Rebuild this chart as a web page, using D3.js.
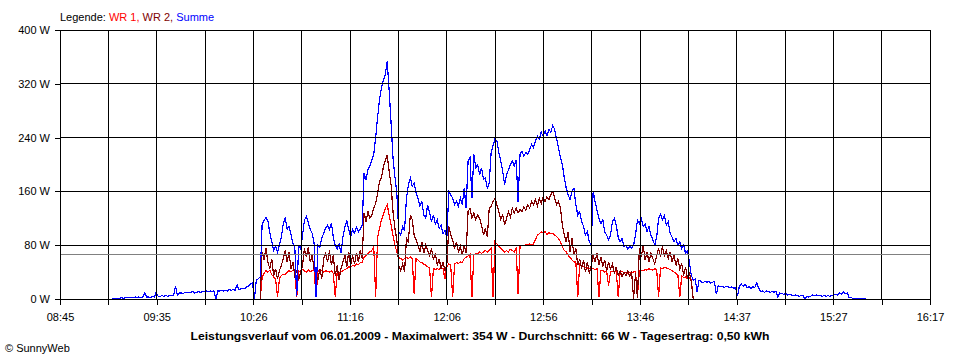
<!DOCTYPE html>
<html><head><meta charset="utf-8">
<script src="https://cdn.jsdelivr.net/npm/d3@7"></script>
<style>
body{margin:0;background:#fff;}
svg{display:block;font-family:"Liberation Sans",Arial,sans-serif;}
</style></head><body>
<svg id="chart" width="960" height="360"></svg>
<script>
// ---------- data ----------
const xTickLabels = ["08:45","09:35","10:26","11:16","12:06","12:56","13:46","14:37","15:27","16:17"];
const yTickValues = [0, 80, 160, 240, 320, 400];
const timeStart = 525;   // 08:45 in minutes after midnight
const timeEnd = 977;     // 16:17
const gridIntervals = 18;
const averageW = 66;
const legendLabels = ["WR 1", "WR 2", "Summe"];
const titleText = "Leistungsverlauf vom 06.01.2009 - Maximalwert: 354 W - Durchschnitt: 66 W - Tagesertrag: 0,50 kWh";
const footerText = "\u00A9 SunnyWeb";

// Summe, one value per minute from 09:12
const summeStart = 552;
const summe = [
1,1,1,1,1,2,1,2,2,2,
2,2,3,2,3,2,3,9,3,3,
2,4,3,10,4,4,5,4,5,4,
5,5,5,19,6,9,9,8,10,9,
10,10,11,9,10,11,10,11,11,12,
11,12,11,12,0,12,12,13,12,13,
12,14,13,14,13,21,14,15,16,15,
18,19,22,24,0,28,30,33,110,117,
121,116,98,86,72,78,70,80,92,112,
120,104,108,96,83,76,5,80,74,95,
117,123,114,103,98,83,3,80,77,90,
98,105,110,103,113,92,80,74,82,68,
92,107,116,104,92,103,98,107,100,104,
110,187,178,192,198,207,215,240,270,296,
314,326,333,354,310,262,210,182,157,100,
95,108,102,150,170,180,168,172,158,150,
138,145,125,120,140,128,115,125,112,118,
105,110,97,102,92,160,155,150,140,145,
138,150,140,165,135,205,210,150,215,195,
200,185,195,178,180,165,172,218,228,238,
235,218,205,190,170,185,192,200,205,198,
207,145,215,220,212,218,215,222,230,225,
235,242,238,248,242,250,243,252,248,258,
252,238,225,210,200,180,165,155,148,160,
165,140,125,130,115,108,95,100,85,80,
160,145,132,120,112,118,100,95,88,95,
115,120,110,92,85,90,78,80,74,78,
76,80,95,117,112,120,108,112,100,108,
95,88,80,92,120,126,118,124,110,115,
98,92,85,90,80,85,75,80,68,72,
55,35,28,30,10,28,26,24,26,25,
26,24,25,26,7,20,18,19,17,19,
18,17,18,16,17,4,20,22,19,22,
17,18,16,18,17,24,16,11,12,10,
12,11,10,11,10,11,3,9,8,7,
8,6,7,6,5,6,5,4,5,5,
0,4,3,4,6,5,6,5,5,4,
5,4,5,4,5,6,7,6,9,7,
11,8,9,2,2,1,1,1,1,1,
1,1,1
];

// WR 1 and WR 2, one value per minute from 10:29
const wrStart = 629;
const wr1 = [
0,32,38,42,40,43,36,33,30,3,
30,35,37,36,40,42,40,43,41,3,
42,40,44,42,40,43,41,42,44,3,
42,41,43,40,42,41,40,42,38,3,
40,38,40,42,44,45,48,47,50,49,
52,51,54,55,62,65,68,70,72,78,
3,92,105,118,125,135,140,125,110,95,
80,70,62,60,58,60,62,60,63,60,
8,60,58,55,54,52,50,48,46,3,
45,44,45,44,46,45,30,48,52,50,
3,52,54,53,55,54,60,62,64,66,
3,65,68,67,70,68,70,72,70,72,
75,3,85,82,78,75,73,70,72,70,
74,72,70,75,8,78,80,79,81,80,
82,80,82,88,95,97,100,98,100,96,
99,97,98,95,93,90,85,78,72,70,
65,62,58,55,55,3,52,50,48,47,
46,45,46,45,44,45,3,42,43,40,
42,20,40,41,40,42,3,40,41,39,
40,38,40,39,40,41,3,42,43,42,
44,43,45,44,43,45,44,3,46,45,
47,46,45,44,42,40,38,36,3,34,
32,33,30,31,28,0
];
const wr2 = [
0,70,58,75,55,45,60,35,45,30,
42,50,60,72,55,70,45,55,35,42,
28,40,50,75,62,77,55,65,45,38,
28,45,30,60,68,55,72,50,65,35,
50,28,45,55,65,48,70,50,65,52,
68,55,72,60,128,115,130,120,125,135,
142,157,175,180,196,206,214,190,170,130,
105,88,50,42,52,40,90,85,125,118,
95,88,80,70,85,68,80,72,65,75,
58,68,50,60,45,55,42,52,108,95,
88,75,85,70,78,65,80,68,130,135,
120,128,118,125,120,110,95,105,92,135,
138,145,150,140,130,118,125,110,120,130,
122,135,128,135,128,133,130,137,132,140,
135,145,140,148,138,150,142,152,145,152,
148,155,160,150,140,145,135,110,95,85,
100,70,90,65,75,50,60,45,58,40,
55,38,50,65,55,68,50,62,48,58,
42,55,45,52,38,48,35,42,33,40,
35,42,34,40,0,38,2,75,62,80,
58,70,55,68,60,52,65,75,62,78,
65,72,60,70,55,65,50,60,45,52,
35,48,30,40,25,0
];

// ---------- styles ----------
const colors = { wr1: "#ff0000", wr2: "#800000", summe: "#0000ff", grid: "#000000", avg: "#808080" };
const legendColors = [colors.wr1, colors.wr2, colors.summe];

// ---------- chart ----------
const svg = d3.select("#chart");
const plot = { left: 60, right: 930, top: 30, bottom: 299 };

const x = d3.scaleLinear().domain([timeStart, timeEnd]).range([plot.left, plot.right]);
const y = d3.scaleLinear().domain([0, 400]).range([plot.bottom, plot.top]);

const toPoints = (start, arr) => arr.map((v, i) => ({ t: start + i, v }));
const line = d3.line().x(d => x(d.t)).y(d => y(d.v));

const dataG = svg.append("g").attr("shape-rendering", "crispEdges");
dataG.append("path").attr("d", line(toPoints(wrStart, wr1)))
  .attr("fill", "none").attr("stroke", colors.wr1).attr("stroke-width", 1.2);
dataG.append("path").attr("d", line(toPoints(wrStart, wr2)))
  .attr("fill", "none").attr("stroke", colors.wr2).attr("stroke-width", 1.2);
dataG.append("path").attr("d", line(toPoints(summeStart, summe)))
  .attr("fill", "none").attr("stroke", colors.summe).attr("stroke-width", 1.2);

// grid
const gridTimes = d3.range(gridIntervals + 1).map(i => timeStart + i * (timeEnd - timeStart) / gridIntervals);
const gridG = svg.append("g").attr("shape-rendering", "crispEdges");
gridG.selectAll("line.v").data(gridTimes).join("line")
  .attr("x1", d => x(d)).attr("x2", d => x(d))
  .attr("y1", y(400)).attr("y2", y(0))
  .attr("stroke", colors.grid);
gridG.selectAll("line.h").data(yTickValues).join("line")
  .attr("x1", plot.left).attr("x2", plot.right)
  .attr("y1", d => y(d)).attr("y2", d => y(d))
  .attr("stroke", colors.grid);

// average line
svg.append("line").attr("shape-rendering", "crispEdges")
  .attr("x1", plot.left + 1).attr("x2", plot.right)
  .attr("y1", y(averageW)).attr("y2", y(averageW))
  .attr("stroke", colors.avg);

// axes
const xAxis = d3.axisBottom(x).tickValues(gridTimes).tickSize(6).tickPadding(8)
  .tickFormat((d, i) => i % 2 === 0 ? xTickLabels[i / 2] : "");
const xg = svg.append("g").attr("transform", `translate(0,${plot.bottom})`)
  .attr("shape-rendering", "crispEdges").call(xAxis);
xg.select(".domain").remove();
xg.selectAll("line").attr("stroke", "#000");
xg.selectAll("text").attr("font-size", 11).attr("font-family", "Liberation Sans, Arial, sans-serif").attr("fill", "#000");

const yAxis = d3.axisLeft(y).tickValues(yTickValues).tickSize(5).tickPadding(5)
  .tickFormat(d => d + " W");
const yg = svg.append("g").attr("transform", `translate(${plot.left},0)`)
  .attr("shape-rendering", "crispEdges").call(yAxis);
yg.select(".domain").attr("d", `M0,${plot.top}V${plot.bottom}`).attr("stroke", "#000");
yg.selectAll("line").attr("stroke", "#000");
yg.selectAll("text").attr("font-size", 11).attr("font-family", "Liberation Sans, Arial, sans-serif").attr("fill", "#000");

// legend
const legend = svg.append("text").attr("x", 60).attr("y", 20.5).attr("font-size", 11);
legend.append("tspan").attr("fill", "#000").text("Legende: ");
legendLabels.forEach((lab, i) => {
  legend.append("tspan").attr("fill", legendColors[i])
    .text(lab + (i < legendLabels.length - 1 ? ", " : ""));
});

// title
svg.append("text").attr("x", 480).attr("y", 340).attr("text-anchor", "middle")
  .attr("font-size", 11).attr("font-weight", "bold")
  .attr("textLength", 579).attr("lengthAdjust", "spacingAndGlyphs")
  .text(titleText);

// footer
svg.append("text").attr("x", 5).attr("y", 352).attr("font-size", 11).text(footerText);
</script>
</body></html>
